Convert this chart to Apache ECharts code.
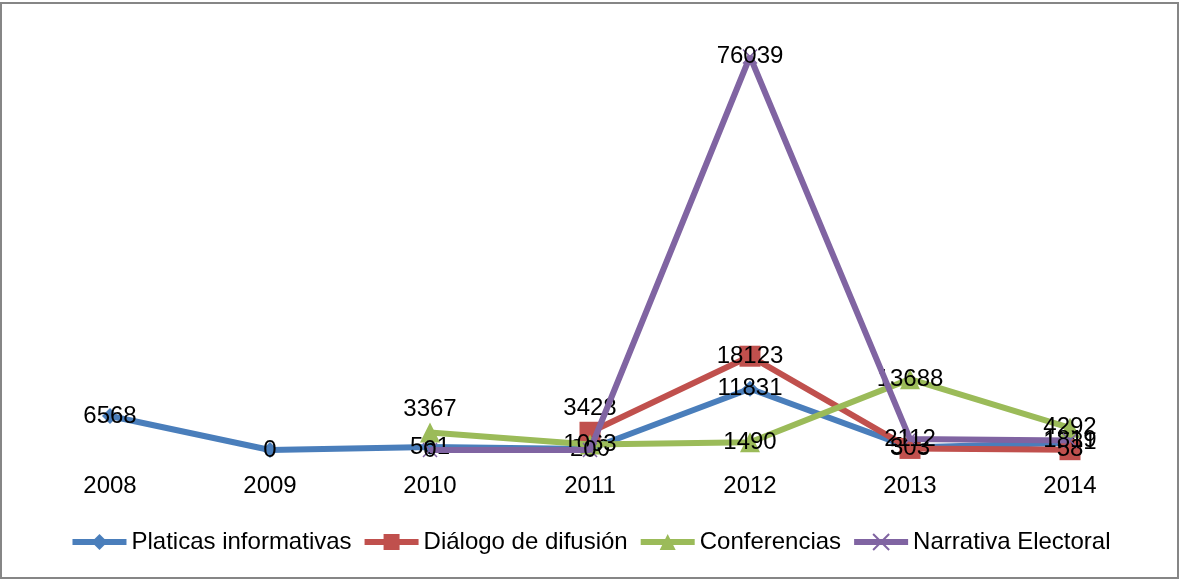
<!DOCTYPE html>
<html>
<head>
<meta charset="UTF-8">
<title></title>
<style>
	html, body { margin: 0; padding: 0; background: #fff; }
	#myChart { width: 1180px; height: 580px; }
</style>
</head>
<body>
<div id="myChart"></div>
<script src="https://cdn.jsdelivr.net/npm/echarts@6/dist/echarts.min.js"></script>
<script>
	// datos
	var years = ['2008', '2009', '2010', '2011', '2012', '2013', '2014'];
	var platicas = [6568, 0, 561, 200, 11831, 505, 1381];
	var dialogo = [null, null, null, 3428, 18123, 303, 58];
	var conferencias = [null, null, 3367, 1063, 1490, 13688, 4292];
	var narrativa = [null, null, 0, 0, 76039, 2112, 1819];

	var font = '"Liberation Sans", Arial, sans-serif';
	var crossPath = 'path://M0,0 L10,10 M10,0 L0,10';

	var myChart = echarts.init(document.getElementById('myChart'));

	// etiquetas que en el original van encima del punto
	function withTopLabel(arr, idx) {
		return arr.map(function (v, i) {
			if (i === idx) {
				return { value: v, label: { position: 'top', distance: 1 } };
			}
			return v;
		});
	}

	function makeSeries(name, data, color, symbol, size, z) {
		return {
			name: name,
			type: 'line',
			data: data,
			z: z,
			symbol: symbol,
			symbolSize: size,
			showAllSymbol: true,
			connectNulls: false,
			lineStyle: { width: 6, color: color },
			itemStyle: { color: color, borderColor: color, borderWidth: symbol === crossPath ? 1.5 : 0 },
			label: {
				show: true,
				position: 'inside',
				color: '#000',
				fontFamily: font,
				fontSize: 24
			},
			labelLayout: { hideOverlap: false },
			emphasis: { disabled: true }
		};
	}

	var option = {
		animation: false,
		backgroundColor: '#fff',
		textStyle: { fontFamily: font },
		graphic: [{
			type: 'rect',
			shape: { x: 1, y: 3, width: 1177, height: 575 },
			style: { fill: 'none', stroke: '#868686', lineWidth: 2 },
			silent: true
		}],
		grid: { left: 30, right: 30, top: 36, bottom: 130 },
		legend: {
			bottom: 21,
			left: 'center',
			itemWidth: 54,
			itemHeight: 20,
			itemGap: 10,
			lineStyle: { width: 6 },
			textStyle: { fontSize: 24, color: '#000', fontFamily: font },
			data: ['Platicas informativas', 'Diálogo de difusión', 'Conferencias', 'Narrativa Electoral']
		},
		xAxis: {
			type: 'category',
			data: years,
			boundaryGap: true,
			axisLine: { show: false },
			axisTick: { show: false },
			axisLabel: { color: '#000', fontSize: 24, fontFamily: font, margin: 24 }
		},
		yAxis: {
			type: 'value',
			min: 0,
			max: 80000,
			show: false,
			splitLine: { show: false }
		},
		series: [
			makeSeries('Platicas informativas', platicas, '#4A7EBB', 'diamond', 16, 2),
			makeSeries('Diálogo de difusión', withTopLabel(dialogo, 3), '#C0504D', 'rect', 21, 3),
			makeSeries('Conferencias', withTopLabel(conferencias, 2), '#9BBB59', 'triangle', 20, 4),
			makeSeries('Narrativa Electoral', narrativa, '#8064A2', crossPath, 14, 5)
		]
	};

	myChart.setOption(option);
</script>
</body>
</html>
